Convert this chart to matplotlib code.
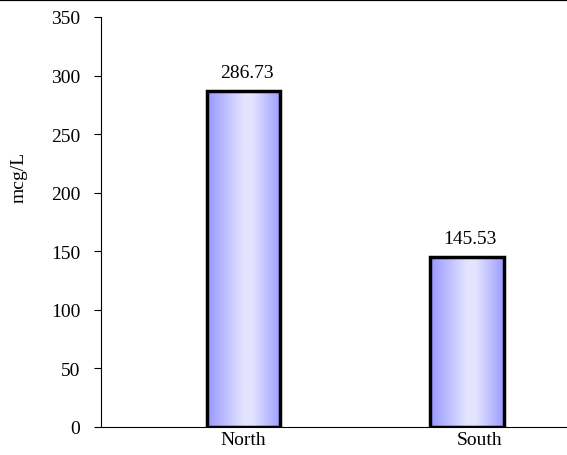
import numpy as np
import matplotlib
matplotlib.use("Agg")
import matplotlib.pyplot as plt
from matplotlib.colors import LinearSegmentedColormap
from matplotlib.lines import Line2D

categories = ["North", "South"]
values = [286.73, 145.53]
value_labels = ["286.73", "145.53"]
yticks = [0, 50, 100, 150, 200, 250, 300, 350]
ylabel = "mcg/L"

plt.rcParams['font.family'] = ['Liberation Serif', 'DejaVu Serif']

fig = plt.figure(figsize=(5.67, 4.56), dpi=100)
ax = fig.add_axes([101/567, 28/456, 466/567, 410/456])

x = np.arange(len(categories))
bars = ax.bar(x, values, width=0.33, color='none', edgecolor='black', linewidth=2.5, zorder=3)

cmap = LinearSegmentedColormap.from_list(
    "grad", [(0.0, "#9898ff"), (0.5, "#e4e4ff"), (0.62, "#e4e4ff"), (1.0, "#9c9cff")])
grad = np.linspace(0, 1, 256).reshape(1, -1)
for b in bars:
    x0, w, h = b.get_x(), b.get_width(), b.get_height()
    im = ax.imshow(grad, cmap=cmap, aspect='auto', extent=(x0, x0 + w, 0, h),
                   zorder=2, interpolation='bilinear')
    im.set_clip_path(b)

for b, lab in zip(bars, value_labels):
    ax.annotate(lab, (b.get_x() + b.get_width() / 2, b.get_height()),
                xytext=(3, 10), textcoords='offset pixels',
                ha='center', va='bottom', fontsize=14)

ax.set_xlim(-0.638, 1.447)
ax.set_ylim(0, 350)
ax.set_yticks(yticks)
ax.set_yticklabels([str(t) for t in yticks], fontsize=14)
ax.set_xticks(x + np.array([0.0, 0.054]))
ax.set_xticklabels(categories, fontsize=14)
ax.tick_params(axis='x', length=0, pad=3)
ax.tick_params(axis='y', length=5, width=0.8, direction='out', pad=10)

for s in ['top', 'right']:
    ax.spines[s].set_visible(False)
for s in ['left', 'bottom']:
    ax.spines[s].set_linewidth(0.8)

ax.set_ylabel(ylabel, fontsize=14)
ax.yaxis.label.set_va('center')
ax.yaxis.set_label_coords(-0.176, 0.612)

fig.add_artist(Line2D([0, 1], [0.997, 0.997], transform=fig.transFigure,
                      color='black', linewidth=1.6))

fig.savefig("out.png", dpi=100)
